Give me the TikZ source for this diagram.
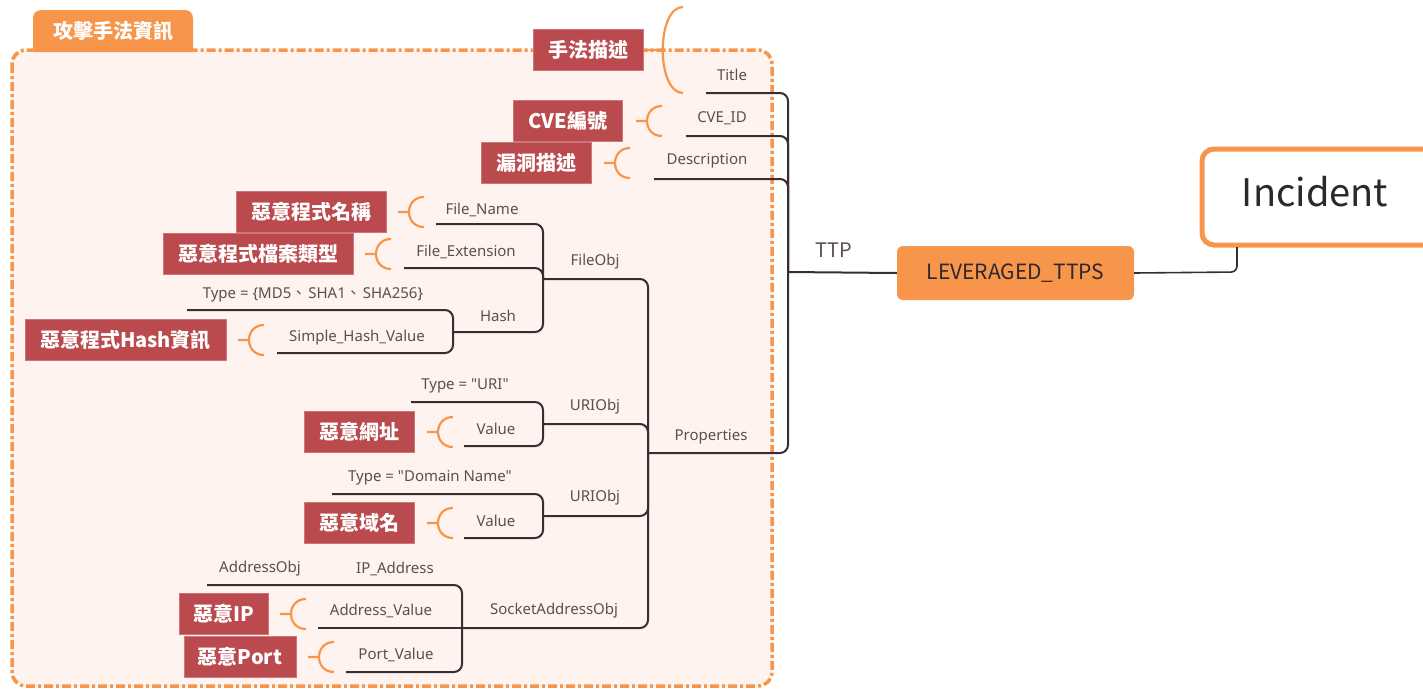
\documentclass[tikz,border=0pt]{standalone}
\usepackage{fontspec}
\setmainfont{Noto Sans CJK TC}[Ligatures={}]
\newfontfamily\latinfont{Noto Sans}
\newfontfamily\cjkfont{Noto Sans CJK TC}
\usetikzlibrary{calc}
\definecolor{frameor}{HTML}{F7964A}
\definecolor{framebg}{HTML}{FEF3EE}
\definecolor{tagred}{HTML}{BA4A4D}
\definecolor{linedk}{HTML}{3A2C33}
\definecolor{txtgray}{HTML}{5A5050}
\definecolor{txtdark}{HTML}{2E282E}
\tikzset{
  lbl/.style={text=txtgray, font=\latinfont\fontsize{15}{17}\selectfont, inner sep=0pt},
  tag/.style={fill=tagred, draw=tagred!75!white, line width=0.8pt, text=white,
    font=\fontsize{20}{23}\selectfont\bfseries, minimum height=41pt, inner sep=0pt},
  conn/.style={draw=linedk, line width=2pt, rounded corners=8pt},
  hookline/.style={draw=frameor, line width=2.2pt},
}
% small orange "(" callout: stub starting at #1, arc ending 26pt to the right
\newcommand{\callout}[1]{%
  \draw[hookline] (#1) -- ++(11,0)
    ($(#1)+(26,-15)$) .. controls ($(#1)+(6,-15)$) and ($(#1)+(6,15)$) .. ($(#1)+(26,15)$);}
\newcommand{\dq}{\symbol{34}}
\newcommand{\ideocomma}{{\cjkfont 、\hspace{2pt}}}
\begin{document}
\begin{tikzpicture}[x=1pt,y=-1pt]
\useasboundingbox (0,0) rectangle (1423,689);

% group frame with its tab
\fill[framebg, rounded corners=14pt] (12,50) rectangle (772,686);
\draw[frameor, line width=3.5pt, rounded corners=14pt,
  dash pattern=on 9pt off 3pt on 3pt off 3pt] (12,50) rectangle (772,686);
\fill[frameor] (33,52) {[rounded corners=8pt] -- (33,10) -- (193,10)} -- (193,52) -- cycle;
\node[text=white, font=\fontsize{20}{22}\selectfont\bfseries] (grp) at (113,31) {攻擊手法資訊};

% trunk coordinates
\coordinate (titleL) at (706,93);
\coordinate (cveL) at (686,136);
\coordinate (descL) at (654,179);
\coordinate (propL) at (648,453);
\coordinate (trunk) at (788,272);

% TTP branch
\draw[conn] (titleL) -- (788,93) -- (trunk);
\draw[conn] (cveL) -- (788,136) -- (trunk);
\draw[conn] (descL) -- (788,179) -- (trunk);
\draw[conn] (propL) -- (788,453) -- (trunk);

\node[fill=frameor, rounded corners=6pt, minimum width=237pt, minimum height=54pt,
  text=txtdark, font=\fontsize{21}{23}\selectfont] (lev) at (1015.5,273) {LEVERAGED\_TTPS};
\draw[draw=linedk, line width=2pt] (trunk) -- (lev.west);
\node[text=txtgray, font=\fontsize{20}{22}\selectfont, inner sep=0pt] (ttp) at (834,250) {TTP};

\draw[frameor, line width=5pt, fill=white, rounded corners=12pt] (1202,149) rectangle (1450,245);
\node[text=txtdark, font=\fontsize{38}{42}\selectfont, inner sep=0pt] (inc) at (1315,192) {Incident};
\coordinate (incB) at (1237,247);
\draw[draw=linedk, line width=1.6pt, rounded corners=6pt] (lev.east) -- (1237,272) -- (incB);

% Properties subtree
\coordinate (fileJ) at (543,279);
\coordinate (uriJ) at (543,424);
\coordinate (domJ) at (543,516);
\coordinate (sockJ) at (462,628);
\draw[conn] (fileJ) -- (648,279) -- (propL);
\draw[conn] (uriJ) -- (648,424) -- (propL);
\draw[conn] (domJ) -- (648,516) -- (propL);
\draw[conn] (sockJ) -- (648,628) -- (propL);

% FileObj
\coordinate (hashJ) at (453,332);
\draw[conn] (436,224) -- (543,224) -- (fileJ);
\draw[conn] (404,268) -- (543,268) -- (fileJ);
\draw[conn] (hashJ) -- (543,332) -- (fileJ);
\draw[conn] (187,310) -- (453,310) -- (hashJ);
\draw[conn] (277,353) -- (453,353) -- (hashJ);

% URIObj
\draw[conn] (411,402) -- (543,402) -- (uriJ);
\draw[conn] (464,446) -- (543,446) -- (uriJ);
\draw[conn] (332,494) -- (543,494) -- (domJ);
\draw[conn] (464,538) -- (543,538) -- (domJ);

% SocketAddressObj
\draw[conn] (207,585) -- (462,585) -- (sockJ);
\draw[conn] (318,628) -- (sockJ);
\draw[conn] (346,672) -- (462,672) -- (sockJ);

% labels
\node[lbl] (tTitle) at (732,75) {Title};
\node[lbl] (tCve) at (722,118) {CVE\_ID};
\node[lbl] (tDesc) at (707,161) {Description};
\node[lbl] (tProp) at (711,437) {Properties};
\node[lbl] (tFile) at (595,262) {FileObj};
\node[lbl] (tUri) at (595,407) {URIObj};
\node[lbl] (tDom) at (595,498) {URIObj};
\node[lbl] (tSock) at (554,611) {SocketAddressObj};
\node[lbl] (tFName) at (482,210) {File\_Name};
\node[lbl] (tFExt) at (466,252) {File\_Extension};
\node[lbl] (tHash) at (498,316) {Hash};
\node[lbl] (tHType) at (313,295) {Type = \{MD5\ideocomma SHA1\ideocomma SHA256\}};
\node[lbl] (tHVal) at (357,338) {Simple\_Hash\_Value};
\node[lbl] (tUType) at (465,386) {Type = \dq URI\dq};
\node[lbl] (tUVal) at (496,429) {Value};
\node[lbl] (tDType) at (430,478) {Type = \dq Domain Name\dq};
\node[lbl] (tDVal) at (496,521) {Value};
\node[lbl] (tAddr) at (260,569) {AddressObj};
\node[lbl] (tIp) at (395,569) {IP\_Address};
\node[lbl] (tAVal) at (381,611) {Address\_Value};
\node[lbl] (tPVal) at (396,655) {Port\_Value};

% callouts
\draw[hookline] (643,50) -- (663,50)
  (683,7) .. controls (656,7) and (656,93) .. (683,93);
\coordinate (cCve) at (636,121);   \callout{cCve}
\coordinate (cDesc) at (604,163);  \callout{cDesc}
\coordinate (cFName) at (398,212); \callout{cFName}
\coordinate (cFExt) at (365,254);  \callout{cFExt}
\coordinate (cHash) at (238,340);  \callout{cHash}
\coordinate (cUri) at (427,432);   \callout{cUri}
\coordinate (cDom) at (427,523);   \callout{cDom}
\coordinate (cIp) at (280,614);    \callout{cIp}
\coordinate (cPort) at (308,657);  \callout{cPort}

% red tags
\node[tag, minimum width=110pt] (gMethod) at (588,50) {手法描述};
\node[tag, minimum width=109pt] (gCve) at (568,121) {CVE編號};
\node[tag, minimum width=110pt] (gVuln) at (536,163) {漏洞描述};
\node[tag, minimum width=150pt] (gFName) at (311,212) {惡意程式名稱};
\node[tag, minimum width=190pt] (gFExt) at (258,254) {惡意程式檔案類型};
\node[tag, minimum width=201pt] (gHash) at (125.5,340) {惡意程式Hash資訊};
\node[tag, minimum width=110pt] (gUrl) at (359,432) {惡意網址};
\node[tag, minimum width=110pt] (gDom) at (359,523) {惡意域名};
\node[tag, minimum width=89pt] (gIp) at (223.5,614) {惡意IP};
\node[tag, minimum width=112pt] (gPort) at (240,657) {惡意Port};
\end{tikzpicture}
\end{document}
